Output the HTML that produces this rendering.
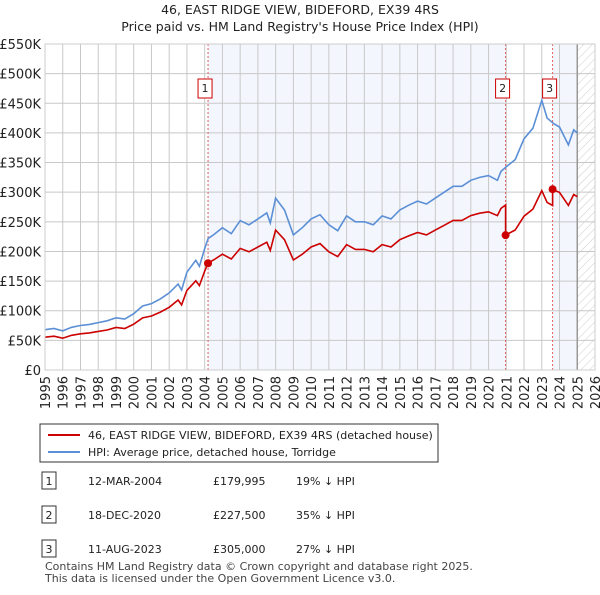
<!DOCTYPE html>
<html><head><meta charset="utf-8"><style>
body{margin:0;background:#fff;font-family:"Liberation Sans","DejaVu Sans",sans-serif;}
svg text{font-family:"DejaVu Sans","Liberation Sans",sans-serif;}
</style></head><body>
<svg id="c" width="600" height="590" xmlns="http://www.w3.org/2000/svg">
<defs><pattern id="hatch" width="6" height="6" patternUnits="userSpaceOnUse" patternTransform="rotate(45)"><line x1="0" y1="0" x2="0" y2="6" stroke="#ccc" stroke-width="1"/></pattern></defs>
<text x="300" y="14" text-anchor="middle" font-size="12.5" fill="#222">46, EAST RIDGE VIEW, BIDEFORD, EX39 4RS</text>
<text x="300" y="31" text-anchor="middle" font-size="12.5" fill="#222">Price paid vs. HM Land Registry's House Price Index (HPI)</text>
<g id="plot"></g>
<g>
<rect x="40" y="424" width="398" height="38" fill="#fff" stroke="#333" stroke-width="1"/>
<line x1="48" y1="435" x2="80" y2="435" stroke="#cc0000" stroke-width="2"/>
<text x="88" y="439" font-size="11" fill="#222">46, EAST RIDGE VIEW, BIDEFORD, EX39 4RS (detached house)</text>
<line x1="48" y1="452" x2="80" y2="452" stroke="#5b8fd6" stroke-width="2"/>
<text x="88" y="456" font-size="11" fill="#222">HPI: Average price, detached house, Torridge</text>
</g>
<g id="table" font-size="11" fill="#222"></g>
<text x="45" y="570" font-size="11" fill="#444">Contains HM Land Registry data © Crown copyright and database right 2025.</text>
<text x="45" y="582" font-size="11" fill="#444">This data is licensed under the Open Government Licence v3.0.</text>
</svg>
<script>
const hpiYears=[1995,1995.5,1996,1996.5,1997,1997.5,1998,1998.5,1999,1999.5,2000,2000.5,2001,2001.5,2002,2002.5,2002.7,2003,2003.5,2003.7,2004,2004.2,2004.5,2005,2005.5,2006,2006.5,2007,2007.5,2007.7,2008,2008.5,2009,2009.5,2010,2010.5,2011,2011.5,2012,2012.5,2013,2013.5,2014,2014.5,2015,2015.5,2016,2016.5,2017,2017.5,2018,2018.5,2019,2019.5,2020,2020.5,2020.7,2021,2021.5,2022,2022.5,2023,2023.3,2023.7,2024,2024.5,2024.8,2025];
const hpiValues=[68,70,66,72,75,77,80,83,88,86,95,108,112,120,130,145,135,165,185,175,205,222,228,240,230,252,245,255,265,248,290,270,228,240,255,262,245,235,260,250,250,245,260,255,270,278,285,280,290,300,310,310,320,325,328,320,335,343,355,390,408,455,425,415,410,380,405,400];
const saleLabels=["1","2","3"];
const saleYears=[2004.19,2020.96,2023.61];
const salePrices=[179995,227500,305000];
const saleDates=["12-MAR-2004","18-DEC-2020","11-AUG-2023"];
const salePriceText=["£179,995","£227,500","£305,000"];
const saleHpiText=["19% ↓ HPI","35% ↓ HPI","27% ↓ HPI"];
const yTicks=[0,50,100,150,200,250,300,350,400,450,500,550];
const yTickLabels=["£0","£50K","£100K","£150K","£200K","£250K","£300K","£350K","£400K","£450K","£500K","£550K"];
const xTicks=[1995,1996,1997,1998,1999,2000,2001,2002,2003,2004,2005,2006,2007,2008,2009,2010,2011,2012,2013,2014,2015,2016,2017,2018,2019,2020,2021,2022,2023,2024,2025,2026];
const dataEnd=2025;

const L=45,R=595,T=44,B=370,X0=1995,X1=2026,YMAX=550;
const xs=v=>L+(v-X0)/(X1-X0)*(R-L);
const ys=v=>B-v/YMAX*(B-T);
const NS="http://www.w3.org/2000/svg";
const plot=document.getElementById('plot');
function mk(tag,attrs,parent){const e=document.createElementNS(NS,tag);for(const k in attrs)e.setAttribute(k,attrs[k]);(parent||plot).appendChild(e);return e;}
function hpiAt(y){for(let i=1;i<hpiYears.length;i++){if(y<=hpiYears[i]){const t=(y-hpiYears[i-1])/(hpiYears[i]-hpiYears[i-1]);return hpiValues[i-1]+t*(hpiValues[i]-hpiValues[i-1]);}}return hpiValues[hpiValues.length-1];}

let r=mk('rect',{x:L,y:T,width:R-L,height:B-T,fill:'#fff'});

r=mk('rect',{x:xs(saleYears[0]),y:T,width:xs(saleYears[1])-xs(saleYears[0]),height:B-T,fill:'#f3f6fd'});

r=mk('rect',{x:xs(saleYears[2]),y:T,width:xs(dataEnd)-xs(saleYears[2]),height:B-T,fill:'#f3f6fd'});

r=mk('rect',{x:xs(dataEnd),y:T,width:R-xs(dataEnd),height:B-T,fill:'url(#hatch)'});


yTicks.forEach((v,i)=>{
 const g=mk('line',{x1:L,x2:R,y1:ys(v),y2:ys(v),stroke:'#c8c8c8','stroke-width':1});
 
 const t=mk('text',{x:L-4,y:ys(v)+5,'text-anchor':'end','font-size':13,fill:'#222'});
 t.textContent=yTickLabels[i];
 
});
xTicks.forEach(v=>{
 const g=mk('line',{x1:xs(v),x2:xs(v),y1:T,y2:B,stroke:'#c8c8c8','stroke-width':1});
 
 const t=mk('text',{x:0,y:0,'text-anchor':'end','font-size':13,fill:'#222',transform:`translate(${xs(v)+5},${B+6}) rotate(-90)`});
 t.textContent=v;
 
});
let d=mk('line',{x1:xs(dataEnd),x2:xs(dataEnd),y1:T,y2:B,stroke:'#999','stroke-width':1.5});


saleYears.forEach((sy,i)=>{
 const l=mk('line',{x1:xs(sy),x2:xs(sy),y1:T,y2:B,stroke:'#e06060','stroke-width':1,'stroke-dasharray':'2,2'});
 
});

let p='';hpiYears.forEach((y,i)=>{p+=(i?'L':'M')+xs(y).toFixed(1)+','+ys(hpiValues[i]).toFixed(1);});
let hl=mk('path',{d:p,fill:'none',stroke:'#5b8fd6','stroke-width':1.6});


const ratios=saleYears.map((sy,i)=>salePrices[i]/1000/hpiAt(sy));
const pts=[];
hpiYears.forEach((y,i)=>{
 let k=0;for(let j=0;j<saleYears.length;j++)if(y>=saleYears[j])k=j;
 pts.push([y,hpiValues[i]*ratios[k]]);
});
saleYears.forEach((sy,j)=>{ if(j>0) pts.push([sy-0.001,hpiAt(sy)*ratios[j-1]]); pts.push([sy,salePrices[j]/1000]); });
pts.sort((a,b)=>a[0]-b[0]);
p='';pts.forEach((q,i)=>{p+=(i?'L':'M')+xs(q[0]).toFixed(1)+','+ys(q[1]).toFixed(1);});
let rl=mk('path',{d:p,fill:'none',stroke:'#cc0000','stroke-width':1.6});


saleYears.forEach((sy,i)=>{
 const c=mk('circle',{cx:xs(sy),cy:ys(salePrices[i]/1000),r:4,fill:'#cc0000'});
 
 const b=mk('rect',{x:xs(sy)-10,y:79,width:14,height:19,fill:'#fff',stroke:'#cc0000','stroke-width':1});
 
 const t=mk('text',{x:xs(sy)-3,y:92,'text-anchor':'middle','font-size':11,fill:'#222'});
 t.textContent=saleLabels[i];
 
});
let fr=mk('rect',{x:L,y:T,width:R-L,height:B-T,fill:'none',stroke:'#ccc','stroke-width':1});


const tb=document.getElementById('table');
saleYears.forEach((sy,i)=>{
 const y=482+i*34;
 const b=mk('rect',{x:42,y:y-10,width:14,height:17,fill:'#fff',stroke:'#333','stroke-width':1},tb);
 
 const cols=[[49,saleLabels[i],'middle'],[88,saleDates[i],'start'],[213,salePriceText[i],'start'],[296,saleHpiText[i],'start']];
 cols.forEach(cc=>{
  const t=mk('text',{x:cc[0],y:y+3,'text-anchor':cc[2],'font-size':11,fill:'#222'},tb);
  t.textContent=cc[1];
  
 });
});
</script>
</body></html>
